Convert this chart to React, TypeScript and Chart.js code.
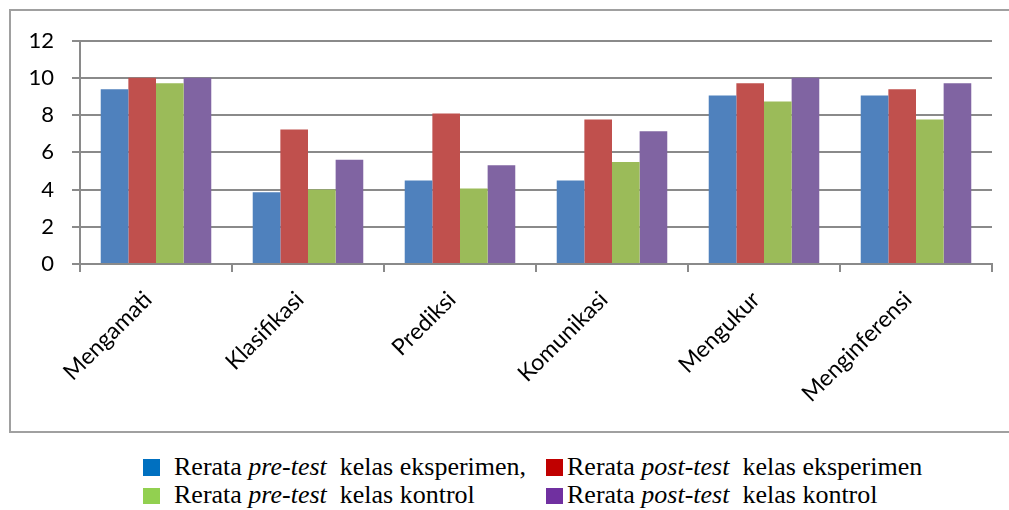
import React, { useEffect, useRef } from "react";
import { Chart, registerables } from "chart.js";

Chart.register(...registerables);

const categories = ["Mengamati", "Klasifikasi", "Prediksi", "Komunikasi", "Mengukur", "Menginferensi"];
const preEksperimen = [9.38, 3.85, 4.48, 4.48, 9.05, 9.05];
const postEksperimen = [10, 7.22, 8.08, 7.76, 9.7, 9.38];
const preKontrol = [9.7, 4.0, 4.05, 5.48, 8.73, 7.76];
const postKontrol = [10, 5.6, 5.3, 7.13, 10, 9.7];
const yTicks = [0, 2, 4, 6, 8, 10, 12];

const seriesNames = [
  "Rerata pre-test kelas eksperimen",
  "Rerata post-test kelas eksperimen",
  "Rerata pre-test kelas kontrol",
  "Rerata post-test kelas kontrol",
];
const barColors = ["#4F81BD", "#C0504D", "#9BBB59", "#8064A2"];
const legendColors = ["#0070C0", "#C00000", "#92D050", "#7030A0"];

const GRID = "#8a8a8a";
const FONT = "Lato";

export default function App() {
  const ref = useRef<HTMLCanvasElement | null>(null);
  useEffect(() => {
    if (!ref.current) return;
    const values = [preEksperimen, postEksperimen, preKontrol, postKontrol];
    const chart = new Chart(ref.current, {
      type: "bar",
      data: {
        labels: categories,
        datasets: values.map((v, i) => ({
          label: seriesNames[i],
          data: v,
          backgroundColor: barColors[i],
          borderWidth: 0,
          categoryPercentage: 4 / 5.5,
          barPercentage: 1,
        })),
      },
      options: {
        animation: false,
        responsive: false,
        devicePixelRatio: 1,
        layout: { padding: { left: 0, right: 17, top: 40.5, bottom: 0 } },
        plugins: { legend: { display: false }, tooltip: { enabled: false } },
        scales: {
          x: {
            offset: true,
            grid: { offset: true, drawOnChartArea: false, drawTicks: true, tickLength: 8, color: GRID, lineWidth: 2 },
            border: { color: GRID, width: 2 },
            ticks: {
              maxRotation: 45,
              minRotation: 45,
              autoSkip: false,
              color: "#000",
              padding: 14,
              labelOffset: -8,
              font: { family: FONT, size: 23 },
            },
            afterFit: (s: any) => {
              s.height = 168;
            },
          },
          y: {
            min: 0,
            max: 12,
            afterBuildTicks: (s: any) => {
              s.ticks = yTicks.map((v) => ({ value: v }));
            },
            grid: { color: GRID, lineWidth: 2, tickLength: 8 },
            border: { color: GRID, width: 2 },
            ticks: {
              color: "#000",
              padding: 18,
              font: { family: FONT, size: 22 },
            },
            afterFit: (s: any) => {
              s.width = 80;
            },
          },
        },
      },
    });
    return () => chart.destroy();
  }, []);

  const legendItem = (
    i: number,
    left: number,
    sqTop: number,
    sqH: number,
    textTop: number,
    kind: string,
    rest: string,
    textLeft: number
  ) => (
    <div key={i}>
      <div
        style={{
          position: "absolute",
          left,
          top: sqTop,
          width: 17,
          height: sqH,
          background: legendColors[i],
        }}
      />
      <div
        style={{
          position: "absolute",
          left: textLeft,
          top: textTop,
          fontFamily: "'Liberation Serif', 'Times New Roman', serif",
          fontSize: 26,
          lineHeight: "30px",
          whiteSpace: "pre",
          color: "#000",
        }}
      >
        {"Rerata "}
        <i>{kind}</i>
        {rest}
      </div>
    </div>
  );

  return (
    <div style={{ position: "absolute", left: 0, top: 0, width: 1009, height: 510, background: "#fff", overflow: "hidden" }}>
      <div
        style={{
          position: "absolute",
          left: 9,
          top: 9,
          width: 1020,
          height: 424,
          border: "2px solid #a0a0a0",
          boxSizing: "border-box",
        }}
      />
      <canvas ref={ref} width={1009} height={432} style={{ position: "absolute", left: 0, top: 0 }} />
      {legendItem(0, 143, 459, 17, 452, "pre-test", "  kelas eksperimen,", 174)}
      {legendItem(1, 546, 459, 17, 452, "post-test", "  kelas eksperimen", 567)}
      {legendItem(2, 143, 488, 16, 480, "pre-test", "  kelas kontrol", 174)}
      {legendItem(3, 546, 488, 16, 480, "post-test", "  kelas kontrol", 567)}
    </div>
  );
}
